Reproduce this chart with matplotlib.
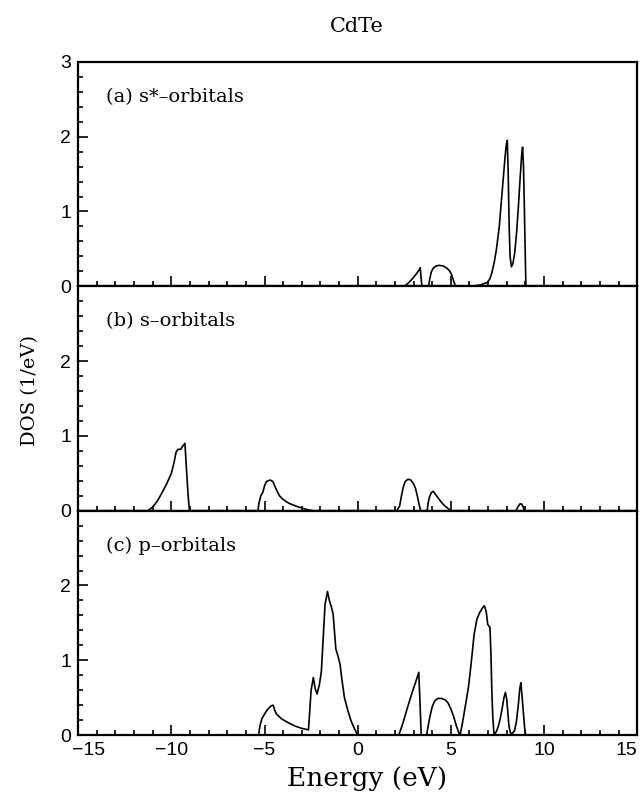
import matplotlib.pyplot as plt
import matplotlib.transforms as mtransforms
from matplotlib.ticker import MultipleLocator, FixedLocator

#%%
# Projected DOS of CdTe

# (a) s*-orbitals
e_sstar = [-15, 2.5, 2.7, 2.9, 3.1, 3.25, 3.36, 3.4, 3.45,
           3.8, 3.87, 3.95, 4.05, 4.2, 4.38, 4.6, 4.8, 4.95, 5.05, 5.15, 5.25,
           6.2, 6.6, 6.95, 7.1, 7.2, 7.33, 7.45, 7.6, 7.7, 7.8, 7.9, 7.97, 8.03,
           8.08, 8.13, 8.18, 8.25, 8.33, 8.43, 8.53, 8.63, 8.72, 8.8, 8.85,
           8.9, 8.95, 9.0, 9.03, 15]
dos_sstar = [0, 0, 0.04, 0.09, 0.15, 0.2, 0.25, 0.12, 0,
             0, 0.1, 0.19, 0.24, 0.27, 0.28, 0.27, 0.24, 0.2, 0.15, 0.07, 0,
             0, 0.02, 0.05, 0.1, 0.18, 0.32, 0.5, 0.8, 1.1, 1.4, 1.7, 1.88, 1.95,
             1.5, 0.8, 0.4, 0.26, 0.3, 0.45, 0.72, 1.08, 1.45, 1.75, 1.86,
             1.6, 1.0, 0.35, 0, 0]

# (b) s-orbitals
e_s = [-15, -11.25, -11.0, -10.75, -10.5, -10.25, -10.0, -9.85, -9.75, -9.65, -9.5,
       -9.4, -9.27, -9.2, -9.1, -9.03,
       -5.35, -5.3, -5.2, -5.1, -5.0, -4.9, -4.7, -4.55, -4.4, -4.2, -4.0, -3.7,
       -3.3, -2.8, -2.4,
       2.1, 2.25, 2.35, 2.45, 2.55, 2.7, 2.85, 3.0, 3.1, 3.2, 3.3, 3.38,
       3.73, 3.78, 3.85, 3.95, 4.05, 4.2, 4.35, 4.5, 4.65, 4.85, 5.0,
       8.5, 8.6, 8.7, 8.8, 8.88, 8.95, 15]
dos_s = [0, 0, 0.05, 0.13, 0.24, 0.36, 0.5, 0.65, 0.78, 0.82, 0.82,
         0.86, 0.9, 0.6, 0.2, 0,
         0, 0.1, 0.2, 0.24, 0.33, 0.39, 0.41, 0.39, 0.3, 0.2, 0.15, 0.1,
         0.06, 0.02, 0,
         0, 0.06, 0.2, 0.32, 0.39, 0.42, 0.41, 0.36, 0.3, 0.2, 0.08, 0,
         0, 0.1, 0.18, 0.24, 0.26, 0.21, 0.16, 0.11, 0.07, 0.03, 0,
         0, 0.05, 0.09, 0.09, 0.05, 0, 0]

# (c) p-orbitals
e_p = [-15, -5.32, -5.25, -5.14, -5.0, -4.85, -4.65, -4.53, -4.45, -4.35, -4.1,
       -3.9, -3.6, -3.35, -3.0, -2.64,
       -2.58, -2.5, -2.38, -2.28, -2.18, -2.05, -1.95, -1.85, -1.75, -1.62,
       -1.52, -1.42, -1.32, -1.17, -1.05, -0.95, -0.85, -0.71, -0.55, -0.37,
       -0.2, 0.0,
       2.2, 2.35, 2.5, 2.65, 2.8, 2.95, 3.1, 3.28, 3.35, 3.41,
       3.7, 3.78, 3.88, 4.0, 4.14, 4.3, 4.5, 4.7, 4.85, 5.0, 5.15, 5.3, 5.45, 5.5,
       5.65, 5.8, 5.95, 6.1, 6.25, 6.4, 6.55, 6.7, 6.8, 6.9, 6.98, 7.1, 7.15,
       7.2, 7.25, 7.32,
       7.45, 7.55, 7.65, 7.75, 7.85, 7.93, 8.0, 8.06, 8.12, 8.2, 8.3, 8.42,
       8.52, 8.62, 8.7, 8.76, 8.83, 8.9, 8.96, 9.02, 15]
dos_p = [0, 0, 0.12, 0.22, 0.28, 0.34, 0.39, 0.4, 0.33, 0.28, 0.22,
         0.19, 0.15, 0.12, 0.09, 0.07,
         0.3, 0.6, 0.77, 0.62, 0.55, 0.68, 0.85, 1.3, 1.75, 1.92,
         1.8, 1.72, 1.62, 1.15, 1.05, 0.95, 0.75, 0.5, 0.35, 0.2,
         0.1, 0,
         0, 0.1, 0.22, 0.35, 0.47, 0.59, 0.7, 0.84, 0.4, 0,
         0, 0.12, 0.25, 0.38, 0.46, 0.49, 0.49, 0.47, 0.43, 0.35, 0.25, 0.12, 0.02, 0,
         0.2, 0.42, 0.65, 0.98, 1.35, 1.55, 1.64, 1.7, 1.73, 1.65, 1.48, 1.44, 1.1,
         0.6, 0.25, 0,
         0.05, 0.12, 0.22, 0.35, 0.5, 0.57, 0.48, 0.3, 0.12, 0.03, 0.02, 0.06,
         0.18, 0.4, 0.62, 0.7, 0.5, 0.28, 0.1, 0, 0]

energies = [e_sstar, e_s, e_p]
dos = [dos_sstar, dos_s, dos_p]
labels = ["(a) s*\u2013orbitals", "(b) s\u2013orbitals", "(c) p\u2013orbitals"]
ytick_sets = [[0, 1, 2, 3], [0, 1, 2], [0, 1, 2]]
xtick_vals = [-15, -10, -5, 0, 5, 10, 15]
xtick_text = ["\u221215", "\u221210", "\u22125", "0", "5", "10", "15"]

serif = "DejaVu Serif"
sans = "Liberation Sans"

#%%
# Three stacked panels sharing the energy axis
fig, axes = plt.subplots(3, 1, figsize=(6.41, 7.93), dpi=100, sharex=True)
fig.subplots_adjust(left=0.122, right=0.994, top=0.922, bottom=0.073, hspace=0)

for ax, e, d, lab, yt in zip(axes, energies, dos, labels, ytick_sets):
    ax.plot(e, d, color="black", lw=1.2)
    ax.set_xlim(-15, 15)
    ax.set_ylim(0, 3)
    for sp in ax.spines.values():
        sp.set_linewidth(1.6)
    ax.xaxis.set_major_locator(MultipleLocator(5))
    ax.xaxis.set_minor_locator(MultipleLocator(1))
    ax.yaxis.set_major_locator(FixedLocator(yt))
    ax.yaxis.set_minor_locator(MultipleLocator(0.2))
    ax.tick_params(which="both", direction="in", top=False, right=False, width=1.2)
    ax.tick_params(which="major", length=7)
    ax.tick_params(which="minor", length=3.5)
    ax.tick_params(axis="y", labelsize=14, pad=5)
    ax.tick_params(axis="x", labelsize=14, pad=5)
    for t in ax.get_yticklabels():
        t.set_fontfamily(sans)
    ax.text(0.05, 0.845, lab, transform=ax.transAxes, fontsize=14,
            family=serif, va="center", ha="left")

axes[2].set_xticks(xtick_vals)
axes[2].set_xticklabels(xtick_text, fontfamily=sans)
xl = axes[2].get_xticklabels()
# nudge the end labels inward so they clear the corner and the figure edge
xl[0].set_transform(xl[0].get_transform() +
                    mtransforms.ScaledTranslation(0.1, 0, fig.dpi_scale_trans))
xl[-1].set_horizontalalignment("right")

fig.text(0.557, 0.966, "CdTe", fontsize=15, family=serif, ha="center", va="center")
fig.text(0.047, 0.508, "DOS (1/eV)", fontsize=14, family=serif, rotation=90,
         ha="center", va="center")
fig.text(0.573, 0.003, "Energy (eV)", fontsize=19, family=serif, ha="center", va="bottom")

plt.savefig("out.png", dpi=100)
